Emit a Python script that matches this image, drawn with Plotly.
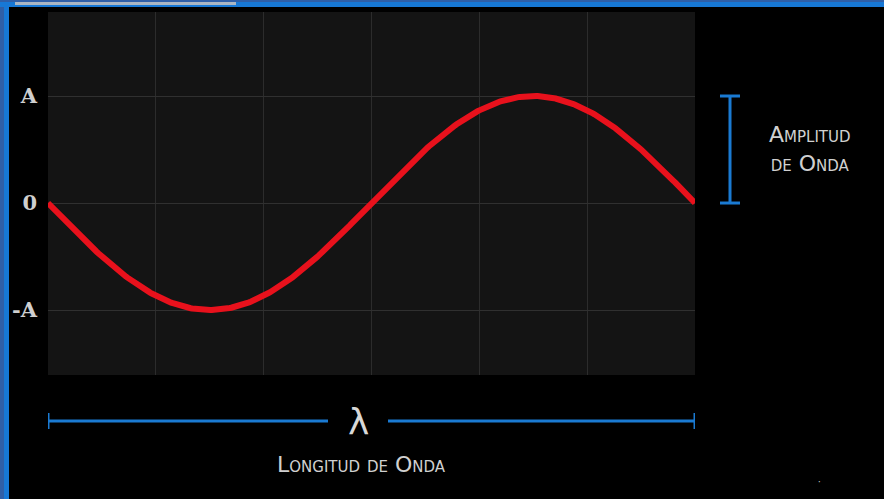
import numpy as np
import plotly.graph_objects as go

# ---- data ----
wave_x = np.linspace(0, 6, 400)          # one wavelength spans 6 grid cells
wave_amp = 1.0
wave_y = -wave_amp * np.sin(2 * np.pi * wave_x / 6)
y_tick_vals = [-1, 0, 1]
y_tick_text = ["-A", "0", "A"]
x_grid_vals = [1, 2, 3, 4, 5]
amp_label = "Amplitud<br>de Onda"
len_label = "Longitud de Onda"
lambda_label = "λ"

# ---- layout constants (pixels) ----
W, H = 884, 499
L, R, T, B = 48, 695, 12, 375
pw, ph = R - L, B - T
y_lo, y_hi = -1.607, 1.785

def px_x(p):
    return (p - L) / pw

def px_y(p):
    return (B - p) / ph

blue = "#1a7ad2"
fig = go.Figure()
fig.add_trace(go.Scatter(x=wave_x, y=wave_y, mode="lines",
                         line=dict(color="#e8111c", width=6), hoverinfo="skip"))

shapes = []
# frame bands
shapes.append(dict(type="rect", xref="paper", yref="paper", x0=px_x(0), x1=px_x(9),
                   y0=px_y(H), y1=px_y(0), fillcolor="#2f5fa8", line_width=0, layer="above"))
shapes.append(dict(type="rect", xref="paper", yref="paper", x0=px_x(4), x1=px_x(9),
                   y0=px_y(H), y1=px_y(0), fillcolor="#1778d6", line_width=0, layer="above"))
shapes.append(dict(type="rect", xref="paper", yref="paper", x0=px_x(0), x1=px_x(W),
                   y0=px_y(7), y1=px_y(0), fillcolor="#1778d6", line_width=0, layer="above"))
shapes.append(dict(type="rect", xref="paper", yref="paper", x0=px_x(0), x1=px_x(W),
                   y0=px_y(2), y1=px_y(0), fillcolor="#2f5fa8", line_width=0, layer="above"))
shapes.append(dict(type="rect", xref="paper", yref="paper", x0=px_x(15), x1=px_x(236),
                   y0=px_y(5), y1=px_y(2), fillcolor="#aab6c4", line_width=0, layer="above"))

# amplitude bracket (vertical)
ax = px_x(730)
cap = 10 / pw
shapes.append(dict(type="line", xref="paper", yref="y", x0=ax, x1=ax, y0=0, y1=wave_amp,
                   line=dict(color=blue, width=3)))
for yy in (0, wave_amp):
    shapes.append(dict(type="line", xref="paper", yref="y", x0=ax - cap, x1=ax + cap, y0=yy, y1=yy,
                       line=dict(color=blue, width=3)))

# wavelength bracket (horizontal)
by = px_y(421)
capy = 8 / ph
gap0, gap1 = 328, 388
shapes.append(dict(type="line", xref="x", yref="paper", x0=wave_x[0], x1=(gap0 - L) / pw * 6,
                   y0=by, y1=by, line=dict(color=blue, width=3)))
shapes.append(dict(type="line", xref="x", yref="paper", x0=(gap1 - L) / pw * 6, x1=wave_x[-1],
                   y0=by, y1=by, line=dict(color=blue, width=3)))
for xx in (wave_x[0], wave_x[-1]):
    shapes.append(dict(type="line", xref="x", yref="paper", x0=xx, x1=xx,
                       y0=by - capy, y1=by + capy, line=dict(color=blue, width=3)))

label_font = dict(family="DejaVu Sans", size=22, color="#d0d0d0", variant="small-caps")
annotations = [
    dict(text=amp_label, xref="paper", yref="paper", x=px_x(810), y=px_y(149),
         xanchor="center", yanchor="middle",
         showarrow=False, align="center", font=label_font),
    dict(text=len_label, xref="paper", yref="paper", x=px_x(361), y=px_y(464),
         xanchor="center", yanchor="middle",
         showarrow=False, font=label_font),
    dict(text=lambda_label, xref="paper", yref="paper", x=px_x(358), y=px_y(421),
         xanchor="center", yanchor="middle",
         showarrow=False,
         font=dict(family="DejaVu Sans", size=36, color="#d8d8d8")),
    dict(text="·", xref="paper", yref="paper", x=px_x(819), y=px_y(481),
         xanchor="center", yanchor="middle",
         showarrow=False, font=dict(size=10, color="#bbbbbb")),
]

fig.update_layout(
    width=W, height=H,
    margin=dict(l=L, r=W - R, t=T, b=H - B),
    paper_bgcolor="#000000", plot_bgcolor="#141414",
    showlegend=False,
    shapes=shapes, annotations=annotations,
    xaxis=dict(range=[0, 6], tickvals=x_grid_vals, showticklabels=False,
               showgrid=True, gridcolor="#2c2c2c", gridwidth=1, zeroline=False,
               showline=False, fixedrange=True),
    yaxis=dict(range=[y_lo, y_hi], tickvals=y_tick_vals, ticktext=y_tick_text,
               showgrid=True, gridcolor="#303030", gridwidth=1, zeroline=False,
               showline=False, ticklabelstandoff=10,
               tickfont=dict(family="DejaVu Serif", size=21, color="#cfcfcf", weight="bold"),
               fixedrange=True),
)

fig.write_html("out.html", config={"displayModeBar": False},
               post_script="document.body.style.margin='0';document.body.style.background='#000';")
